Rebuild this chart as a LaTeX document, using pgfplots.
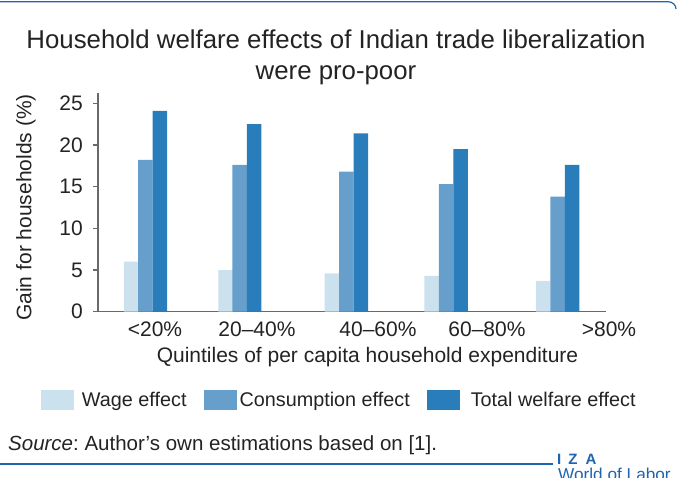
\documentclass[border=0pt]{standalone}
\usepackage{pgfplots}
\pgfplotsset{compat=1.18}
\usepackage{fontspec}
\setmainfont{Liberation Sans}
\definecolor{wage}{RGB}{204,225,238}
\definecolor{cons}{RGB}{102,158,204}
\definecolor{tot}{RGB}{41,125,187}
\definecolor{izablue}{RGB}{30,100,175}
\definecolor{txt}{RGB}{35,35,35}
\definecolor{axgray}{RGB}{105,105,105}
\begin{document}
\begin{tikzpicture}[x=1pt,y=1pt]
\useasboundingbox (0,0) rectangle (677,477);
\clip (0,0) rectangle (677,477);
\draw[izablue, line width=1.2pt] (0,475.3) -- (668,475.3) to[out=0,in=90] (676,468);
\node[anchor=base, font=\fontsize{25.8}{30}\selectfont, text=txt, inner sep=0pt] at (336,428) {Household welfare effects of Indian trade liberalization};
\node[anchor=base, font=\fontsize{25.8}{30}\selectfont, text=txt, inner sep=0pt] at (336,397) {were pro-poor};
\begin{axis}[
  scale only axis, width=514pt, height=219pt,
  at={(98pt,165.3pt)}, anchor=south west,
  xmin=98, xmax=612, ymin=0, ymax=26.27,
  axis lines*=left,
  axis line style={axgray, line width=1.5pt},
  x axis line style={shorten >=6pt},
  ytick={0,5,10,15,20,25},
  xtick={155,257,378,487,609},
  xticklabels={<20\%,20--40\%,40--60\%,60--80\%,>80\%},
  tick align=outside,
  major tick length=5pt,
  ytick style={axgray, line width=1.2pt},
  xtick style={draw=none},
  /pgf/number format/assume math mode=true,
  ticklabel style={font=\fontsize{21}{24}\selectfont, text=txt, inner sep=0pt},
  yticklabel style={anchor=east, xshift=-10pt},
  xticklabel style={anchor=base, yshift=-20pt},
  xlabel={Quintiles of per capita household expenditure},
  xlabel style={at={(axis description cs:0.5243,-0.2297)}, anchor=base, font=\fontsize{21}{24}\selectfont, text=txt, inner sep=0pt},
  ylabel={Gain for households (\%)},
  ylabel style={at={(axis description cs:-0.1294,0.476)}, anchor=base, rotate=0, font=\fontsize{21}{24}\selectfont, text=txt, inner sep=0pt},
  legend columns=3,
  legend style={at={(axis description cs:-0.1109,-0.4032)}, anchor=west, draw=none, fill=none, inner sep=0pt, outer sep=0pt,
    font=\fontsize{19.8}{22}\selectfont, text=txt,
    nodes={inner sep=0pt},
    /tikz/every odd column/.append style={column sep=8pt},
    /tikz/every even column/.append style={column sep=17pt}},
  legend cell align=left,
  clip=false,
]
\addplot[ybar, bar width=14.5, bar shift=0pt, fill=wage, draw=none,
  legend image code/.code={\fill[wage] (0pt,-10pt) rectangle (33pt,10pt);}]
  coordinates {(131.2,6.0) (225.5,5.0) (331.8,4.6) (431.5,4.3) (543,3.7)};
\addlegendentry{Wage effect}
\addplot[ybar, bar width=14.5, bar shift=0pt, fill=cons, draw=none,
  legend image code/.code={\fill[cons] (0pt,-10pt) rectangle (33pt,10pt);}]
  coordinates {(145.3,18.2) (239.5,17.6) (346.3,16.8) (446,15.3) (557.5,13.8)};
\addlegendentry{\hspace{-5pt}Consumption effect}
\addplot[ybar, bar width=14.5, bar shift=0pt, fill=tot, draw=none,
  legend image code/.code={\fill[tot] (0pt,-10pt) rectangle (33pt,10pt);}]
  coordinates {(159.8,24.1) (254,22.5) (360.8,21.4) (460.5,19.5) (572,17.6)};
\addlegendentry{\hspace{3pt}Total welfare effect}
\end{axis}
\node[anchor=base west, font=\fontsize{20.5}{24}\selectfont\frenchspacing, text=txt, inner sep=0pt] at (8,27) {\textit{Source}: Author's own estimations based on [1].};
\draw[izablue, line width=1.2pt] (0,13) -- (553,13);
\node[anchor=base west, font=\fontsize{15}{18}\selectfont\bfseries, text=izablue, inner sep=0pt] at (557,13) {I\hspace{7pt}Z\hspace{8pt}A};
\node[anchor=base west, font=\fontsize{17.2}{20}\selectfont, text=izablue, inner sep=0pt] at (558,-3.3) {World of Labor};
\end{tikzpicture}
\end{document}
